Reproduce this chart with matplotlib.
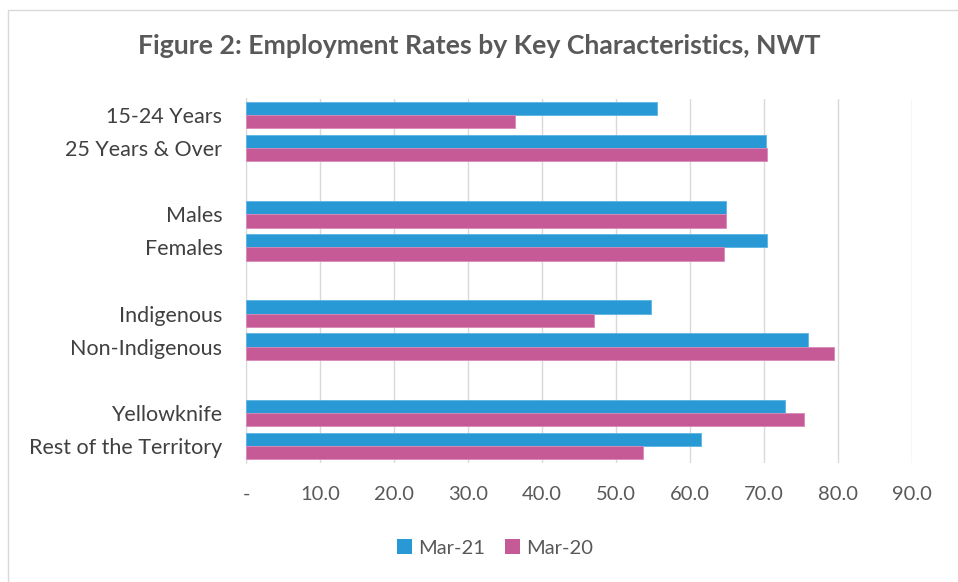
import matplotlib
matplotlib.use("Agg")
import matplotlib.pyplot as plt
from matplotlib.patches import Rectangle, Patch

categories = ["15-24 Years", "25 Years & Over", "", "Males", "Females", "",
              "Indigenous", "Non-Indigenous", "", "Yellowknife", "Rest of the Territory"]
mar21 = [55.6, 70.3, None, 64.9, 70.4, None, 54.7, 76.0, None, 72.9, 61.5]
mar20 = [36.4, 70.4, None, 64.9, 64.6, None, 47.0, 79.5, None, 75.4, 53.6]
xticks = [0, 10, 20, 30, 40, 50, 60, 70, 80, 90]
xticklabels = ["-", "10.0", "20.0", "30.0", "40.0", "50.0", "60.0", "70.0", "80.0", "90.0"]

blue = "#2899D5"
pink = "#C55A96"
txt = "#404040"

plt.rcParams['font.family'] = ['Lato', 'DejaVu Sans']

fig = plt.figure(figsize=(9.58, 5.82), dpi=100)
fig.patches.append(Rectangle((8/958, -0.01), 1.0, 1 - 10/582 + 0.01, transform=fig.transFigure,
                             fill=False, edgecolor="#D9D9D9", linewidth=1.0))
ax = fig.add_axes([246/958, 1 - 462.5/582, 666/958, 364/582])

idx = list(range(len(categories)))
h = 0.4
for i in idx:
    if mar21[i] is not None:
        ax.barh(i - h/2, mar21[i], height=h, color=blue, edgecolor="#5BB5E3", linewidth=0.6, zorder=3)
        ax.barh(i + h/2, mar20[i], height=h, color=pink, edgecolor="#D98AB8", linewidth=0.6, zorder=3)

ax.set_xlim(0, 90)
ax.set_ylim(10.5, -0.5)
ax.set_xticks(xticks)
ax.set_xticklabels(xticklabels, fontsize=14.5, color="#595959")
ax.set_yticks(idx)
ax.set_yticklabels(categories, fontsize=15.5, color=txt)
ax.tick_params(axis='x', length=0, pad=17)
ax.tick_params(axis='y', length=0, pad=17)
ax.grid(axis='x', color="#D9D9D9", linewidth=1.0, zorder=0)
for s in ["top", "right", "bottom"]:
    ax.spines[s].set_visible(False)
ax.spines["left"].set_color("#D9D9D9")

fig.text(0.5, 1 - 46/582, "Figure 2: Employment Rates by Key Characteristics, NWT",
         ha="center", va="center", fontsize=19.2, fontweight="bold", color="#595959")

handles = [Patch(facecolor=blue, label="Mar-21"), Patch(facecolor=pink, label="Mar-20")]
fig.legend(handles=handles, loc="center", bbox_to_anchor=(495/958, 1 - 548/582), ncol=2,
           frameon=False, fontsize=14.5, handlelength=0.75, handleheight=0.75,
           handletextpad=0.3, columnspacing=1.0, labelcolor="#595959")

fig.savefig("out.png", dpi=100)
